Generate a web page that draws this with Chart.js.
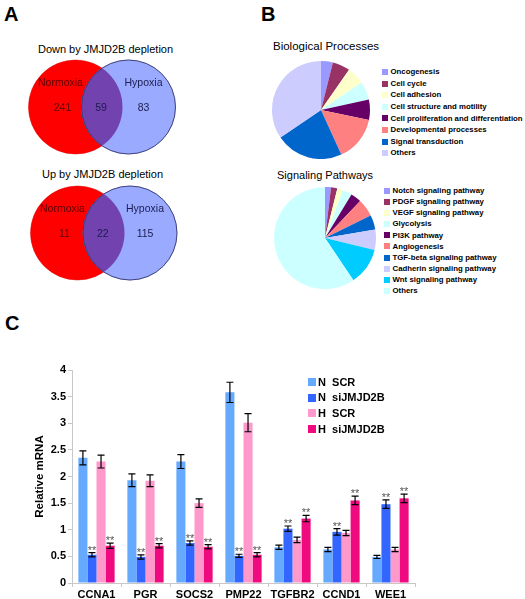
<!DOCTYPE html>
<html>
<head>
<meta charset="utf-8">
<script src="https://cdn.jsdelivr.net/npm/chart.js@4"></script>
<style>
  body { margin: 0; background: #fff; font-family: "Liberation Sans", Arial, sans-serif; }
  #page { position: relative; width: 525px; height: 599px; overflow: hidden; }
  canvas, .txt, .leg { position: absolute; }
  .txt { line-height: 1; white-space: pre; color: #000; }
  .letter { font-size: 20px; font-weight: bold; }
  .leg { font-weight: bold; white-space: pre; line-height: 1; }
  .leg span.box { position: absolute; left: 0; }
</style>
</head>
<body>
<div id="page">
  <div class="txt letter" style="left:4px;top:4px">A</div>
  <div class="txt letter" style="left:261px;top:4px">B</div>
  <div class="txt letter" style="left:5px;top:313px">C</div>

  <div class="txt" id="vt1" style="font-size:11px;top:43.5px;left:0;width:211px;text-align:center"></div>
  <div class="txt" id="vt2" style="font-size:11px;top:168.5px;left:0;width:205px;text-align:center"></div>
  <canvas id="venn1" width="210" height="104" style="left:0;top:55px"></canvas>
  <canvas id="venn2" width="210" height="104" style="left:2px;top:181px"></canvas>

  <div class="txt" style="font-size:11.5px;left:273px;top:41px">Biological Processes</div>
  <div class="txt" style="font-size:11px;left:277px;top:169.5px">Signaling Pathways</div>
  <canvas id="pie1" width="98" height="98" style="left:272px;top:61px"></canvas>
  <canvas id="pie2" width="102" height="102" style="left:274px;top:187px"></canvas>
  <div id="leg1"></div>
  <div id="leg2"></div>

  <canvas id="bars" width="525" height="259" style="left:0;top:340px"></canvas>
  <div id="leg3"></div>
</div>
<script>
// Panel A: Venn counts (only-Normoxia, overlap, only-Hypoxia)
const vennTitles = ['Down by JMJD2B depletion', 'Up by JMJD2B depletion'];
const vennSets = ['Normoxia', 'Hypoxia'];
const vennDown = [241, 59, 83];
const vennUp = [11, 22, 115];

// Panel B: GO categories (% of genes)
const bioLabels = ['Oncogenesis', 'Cell cycle', 'Cell adhesion', 'Cell structure and motility',
  'Cell proliferation and differentiation', 'Developmental processes', 'Signal transduction', 'Others'];
const bioValues = [3.9, 5.8, 5.8, 6.1, 6.7, 14.9, 22.3, 34.5];
const bioColors = ['#9999FF', '#993366', '#FFFFCC', '#CCFFFF', '#660066', '#FF8080', '#0066CC', '#CCCCFF'];

const sigLabels = ['Notch signaling pathway', 'PDGF signaling pathway', 'VEGF signaling pathway', 'Glycolysis',
  'PI3K pathway', 'Angiogenesis', 'TGF-beta signaling pathway', 'Cadherin signaling pathway',
  'Wnt signaling pathway', 'Others'];
const sigValues = [1.9, 2.0, 1.8, 3.0, 3.4, 5.6, 4.6, 6.5, 11.8, 59.4];
const sigColors = ['#9999FF', '#993366', '#FFFFCC', '#CCFFFF', '#660066', '#FF8080', '#0066CC', '#CCCCFF', '#00CCFF', '#CCFFFF'];

// Panel C: relative mRNA
const genes = ['CCNA1', 'PGR', 'SOCS2', 'PMP22', 'TGFBR2', 'CCND1', 'WEE1'];
const seriesNames = ['N  SCR', 'N  siJMJD2B', 'H  SCR', 'H  siJMJD2B'];
const nScr = [2.35, 1.93, 2.28, 3.58, 0.67, 0.63, 0.49];
const nScrErr = [0.13, 0.12, 0.13, 0.19, 0.04, 0.04, 0.03];
const nSi = [0.53, 0.49, 0.75, 0.51, 1.02, 0.96, 1.48];
const nSiErr = [0.04, 0.04, 0.04, 0.03, 0.05, 0.06, 0.08];
const hScr = [2.28, 1.92, 1.50, 3.01, 0.81, 0.94, 0.63];
const hScrErr = [0.12, 0.11, 0.08, 0.17, 0.05, 0.05, 0.04];
const hSi = [0.70, 0.70, 0.68, 0.53, 1.21, 1.55, 1.59];
const hSiErr = [0.05, 0.04, 0.04, 0.04, 0.06, 0.08, 0.08];
const nSiStars = ['**', '**', '**', '**', '**', '**', '**'];
const hSiStars = ['**', '**', '**', '**', '**', '**', '**'];

const FONT = '"Liberation Sans", Arial, sans-serif';
Chart.defaults.font.family = FONT;
Chart.defaults.animation = false;

// ---------- Venn diagrams ----------
const vennOverlap = {
  id: 'vennOverlap',
  afterDatasetsDraw(chart) {
    const ctx = chart.ctx;
    const els = chart.getDatasetMeta(0).data;
    const a = els[0], b = els[1];
    const ra = a.options.radius, rb = b.options.radius;
    ctx.save();
    ctx.beginPath();
    ctx.arc(a.x, a.y, ra, 0, Math.PI * 2);
    ctx.clip();
    ctx.fillStyle = '#7242AE';
    ctx.beginPath();
    ctx.arc(b.x, b.y, rb, 0, Math.PI * 2);
    ctx.fill();
    ctx.restore();
    ctx.save();
    ctx.strokeStyle = '#34346a';
    ctx.lineWidth = 0.9;
    ctx.beginPath();
    ctx.arc(b.x, b.y, rb, 0, Math.PI * 2);
    ctx.stroke();
    // labels
    const counts = chart.options.plugins.vennOverlap.counts;
    ctx.font = '10.5px ' + FONT;
    ctx.textAlign = 'center';
    ctx.textBaseline = 'middle';
    ctx.fillStyle = '#5a0000';
    ctx.fillText(vennSets[0], a.x - 15, a.y - 24);
    ctx.fillText(String(counts[0]), a.x - 13, a.y + 1);
    ctx.fillStyle = '#1c1c50';
    ctx.fillText(String(counts[1]), (a.x + b.x) / 2 - 1, a.y + 1);
    ctx.fillText(vennSets[1], b.x + 15, b.y - 24);
    ctx.fillText(String(counts[2]), b.x + 15, b.y + 1);
    ctx.restore();
  }
};

// chart area is fixed by the padding (bigger than the bubble overflow),
// so one x unit = gap pixels and the first set sits 27.5px right of its left edge
function makeVenn(id, counts, gap) {
  const pad = 48, areaW = 210 - 2 * pad;
  const xmin = -27.5 / gap;
  new Chart(document.getElementById(id), {
    type: 'bubble',
    data: {
      datasets: [{
        data: [{ x: 0, y: 0, r: 47 }, { x: 1, y: 0, r: 47 }],
        backgroundColor: ['#FF0000', '#99AAFF'],
        borderColor: ['#e00000', '#99AAFF'],
        borderWidth: 0.5,
        clip: false
      }]
    },
    options: {
      responsive: false,
      layout: { padding: pad },
      events: [],
      scales: {
        x: { display: false, min: xmin, max: xmin + areaW / gap },
        y: { display: false, min: -1, max: 1 }
      },
      plugins: { legend: { display: false }, tooltip: { enabled: false }, vennOverlap: { counts: counts } }
    },
    plugins: [vennOverlap]
  });
}
document.getElementById('vt1').textContent = vennTitles[0];
document.getElementById('vt2').textContent = vennTitles[1];
makeVenn('venn1', vennDown, 53);
makeVenn('venn2', vennUp, 52.5);

// ---------- Pies ----------
function makePie(id, labels, values, colors) {
  new Chart(document.getElementById(id), {
    type: 'pie',
    data: { labels: labels, datasets: [{ data: values, backgroundColor: colors, borderWidth: 0 }] },
    options: {
      responsive: false,
      events: [],
      layout: { padding: 0 },
      plugins: { legend: { display: false }, tooltip: { enabled: false } }
    }
  });
}
makePie('pie1', bioLabels, bioValues, bioColors);
makePie('pie2', sigLabels, sigValues, sigColors);

function buildLegend(elId, labels, colors, left, top, step, box, fontSize, gapText) {
  const host = document.getElementById(elId);
  labels.forEach((lab, i) => {
    const row = document.createElement('div');
    row.className = 'leg';
    row.style.left = left + 'px';
    row.style.top = (top + i * step - fontSize / 2) + 'px';
    row.style.fontSize = fontSize + 'px';
    row.style.height = fontSize + 'px';
    row.style.paddingLeft = (box + gapText) + 'px';
    const sq = document.createElement('span');
    sq.className = 'box';
    sq.style.width = box + 'px';
    sq.style.height = box + 'px';
    sq.style.top = ((fontSize - box) / 2) + 'px';
    sq.style.background = colors[i];
    row.appendChild(sq);
    row.appendChild(document.createTextNode(lab));
    host.appendChild(row);
  });
}
buildLegend('leg1', bioLabels, bioColors, 382, 72, 11.6, 6, 7.8, 2.5);
buildLegend('leg2', sigLabels, sigColors, 384, 191, 11.1, 6, 7.8, 2.5);

// ---------- Bar chart ----------
const barColors = ['#66AAFF', '#3366FF', '#FF99CC', '#F00A80'];
const barErrors = [nScrErr, nSiErr, hScrErr, hSiErr];
const barStars = [null, nSiStars, null, hSiStars];

const errorBars = {
  id: 'errorBars',
  afterDatasetsDraw(chart) {
    const ctx = chart.ctx;
    const ys = chart.scales.y;
    ctx.save();
    chart.data.datasets.forEach((ds, di) => {
      const meta = chart.getDatasetMeta(di);
      meta.data.forEach((bar, i) => {
        const v = ds.data[i], e = barErrors[di][i];
        const top = ys.getPixelForValue(v + e);
        const bot = ys.getPixelForValue(v - e);
        ctx.strokeStyle = '#000';
        ctx.lineWidth = 1.2;
        ctx.beginPath();
        ctx.moveTo(bar.x, top); ctx.lineTo(bar.x, bot);
        ctx.moveTo(bar.x - 3.5, top); ctx.lineTo(bar.x + 3.5, top);
        ctx.moveTo(bar.x - 3.5, bot); ctx.lineTo(bar.x + 3.5, bot);
        ctx.stroke();
        const st = barStars[di];
        if (st && st[i]) {
          ctx.fillStyle = '#555';
          ctx.font = '11px ' + FONT;
          ctx.textAlign = 'center';
          ctx.textBaseline = 'alphabetic';
          ctx.fillText(st[i], bar.x, top + 1);
        }
      });
    });
    ctx.restore();
  }
};

new Chart(document.getElementById('bars'), {
  type: 'bar',
  data: {
    labels: genes,
    datasets: [nScr, nSi, hScr, hSi].map((d, i) => ({
      label: seriesNames[i],
      data: d,
      backgroundColor: barColors[i],
      borderWidth: 0,
      categoryPercentage: 0.74,
      barPercentage: 1.0
    }))
  },
  options: {
    responsive: false,
    events: [],
    layout: { padding: { left: 0, right: 110, top: 30, bottom: 0 } },
    scales: {
      x: {
        grid: { display: true, drawOnChartArea: false, tickLength: 4, color: '#c8c8c8', offset: true },
        border: { color: '#c8c8c8' },
        ticks: { color: '#000', font: { size: 11, weight: 'bold' }, padding: 1, maxRotation: 0, autoSkip: false },
        afterFit(s) { s.height = 16; }
      },
      y: {
        min: 0, max: 4,
        grid: { display: true, drawOnChartArea: false, tickLength: 4, color: '#c8c8c8' },
        border: { color: '#c8c8c8' },
        ticks: { stepSize: 0.5, color: '#000', font: { size: 11, weight: 'bold' }, padding: 2, callback: v => String(v) },
        title: { display: true, text: 'Relative mRNA', color: '#000', font: { size: 11.5, weight: 'bold' }, padding: { top: 33, bottom: 0 } },
        afterFit(s) { s.width = 72; }
      }
    },
    plugins: { legend: { display: false }, tooltip: { enabled: false } }
  },
  plugins: [errorBars]
});

// legend for panel C (sits inside the plot area, upper right)
(function () {
  const host = document.getElementById('leg3');
  seriesNames.forEach((name, i) => {
    const row = document.createElement('div');
    row.className = 'leg';
    row.style.left = '308px';
    row.style.top = (382 + i * 15.7 - 5.5) + 'px';
    row.style.fontSize = '11px';
    row.style.height = '11px';
    row.style.paddingLeft = '10px';
    const sq = document.createElement('span');
    sq.className = 'box';
    sq.style.width = '8px';
    sq.style.height = '8px';
    sq.style.top = '1.5px';
    sq.style.background = barColors[i];
    row.appendChild(sq);
    row.appendChild(document.createTextNode(name));
    host.appendChild(row);
  });
})();
</script>
</body>
</html>
